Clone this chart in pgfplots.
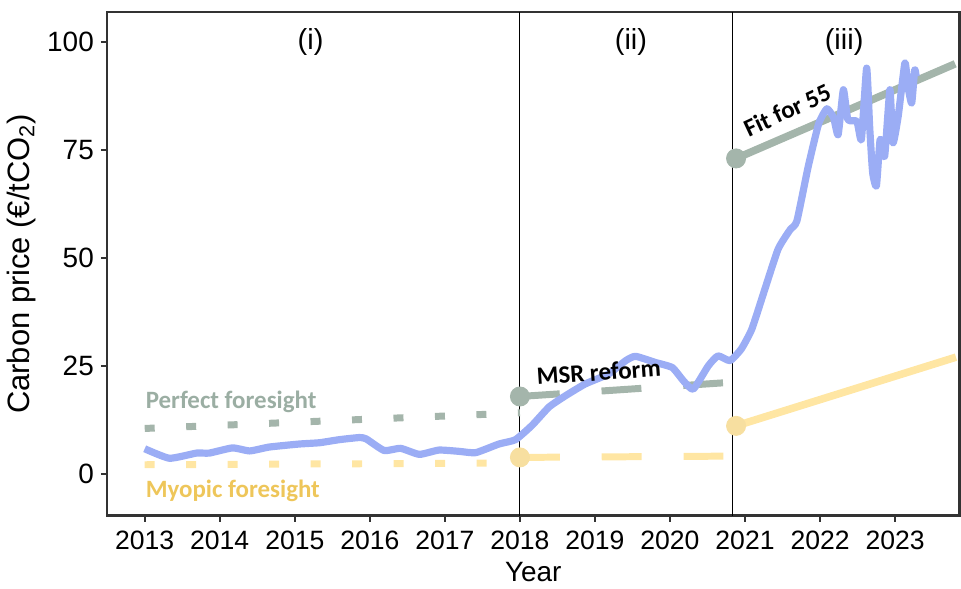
\documentclass[border=0pt]{standalone}
\usepackage{pgfplots}
\pgfplotsset{compat=1.18}
\usepackage{fontspec}
\setmainfont{Liberation Sans}
\newfontfamily\annot{Carlito}
\definecolor{price}{HTML}{9BADF5}
\definecolor{perfect}{HTML}{A4B5AB}
\definecolor{perfecttxt}{HTML}{9BAEA3}
\definecolor{myopic}{HTML}{FFE6A3}
\definecolor{myopicdot}{HTML}{F7DFA0}
\definecolor{myopictxt}{HTML}{EEC65A}

\begin{document}
\begin{tikzpicture}
\begin{axis}[
    name=main,
    scale only axis, width=427.5pt, height=252.5pt,
    xmin=2012.495, xmax=2023.86, ymin=-9.7, ymax=106.9,
    xtick={2013,...,2023}, ytick={0,25,50,75,100},
    /pgf/number format/1000 sep={},
    /pgf/number format/assume math mode=true,
    tick label style={black},
    yticklabel style={font=\fontsize{14}{16}\selectfont},
    xticklabel style={font=\fontsize{13.3}{15}\selectfont, yshift=-1pt},
    tick align=outside, tick pos=left, major tick length=3pt,
    tick style={black!80, line width=0.8pt},
    axis line style={black!80, line width=1.3pt},
    xlabel={Year}, ylabel={Carbon price (€/tCO\textsubscript{2})},
    xlabel style={font=\fontsize{14}{16}\selectfont, yshift=0.5pt},
    ylabel style={font=\fontsize{15.5}{18}\selectfont, yshift=-1pt},
    clip=false,
]
% period dividers
\draw[black, line width=0.5pt] (axis cs:2018,-9.7) -- (axis cs:2018,106.9);
\draw[black, line width=0.5pt] (axis cs:2020.83,-9.7) -- (axis cs:2020.83,106.9);
\node[font=\fontsize{14.5}{16}\selectfont] at (axis cs:2015.21,100) {(i)};
\node[font=\fontsize{14.5}{16}\selectfont] at (axis cs:2019.48,100) {(ii)};
\node[font=\fontsize{14.5}{16}\selectfont] at (axis cs:2022.32,100) {(iii)};

% perfect foresight
\addplot[perfect, line width=3.5pt, dash pattern=on 5pt off 15.8pt]
  coordinates {(2013,10.5)(2018,14.1)};
\addplot[perfect, line width=3.5pt, dash pattern=on 20pt off 21pt]
  coordinates {(2018,17.9)(2020.83,21.2)};
\addplot[perfect, line width=3.8pt]
  coordinates {(2020.88,73.0)(2023.80,94.9)};
\addplot[only marks, mark=*, mark size=4.8pt, perfect, mark options={fill=perfect, draw=perfect}]
  coordinates {(2018,17.9)(2020.88,73.0)};

% myopic foresight
\addplot[myopic, line width=3.5pt, dash pattern=on 5pt off 15.8pt]
  coordinates {(2013,2.1)(2018,2.5)};
\addplot[myopic, line width=3.5pt, dash pattern=on 20pt off 21pt]
  coordinates {(2018,3.8)(2020.83,4.1)};
\addplot[myopic, line width=3.8pt]
  coordinates {(2020.88,11.1)(2023.81,27.0)};
\addplot[only marks, mark=*, mark size=4.8pt, myopicdot, mark options={fill=myopicdot, draw=myopicdot}]
  coordinates {(2018,3.8)(2020.88,11.1)};

% observed price
\addplot[price, line width=3.6pt, smooth, tension=0.3, line join=round]
  coordinates {(2013.00,5.8)(2013.33,3.6)(2013.69,4.8)(2013.86,4.8)(2014.17,6.0)
  (2014.40,5.3)(2014.66,6.2)(2015.06,6.9)(2015.33,7.2)(2015.59,7.9)(2015.86,8.4)
  (2015.95,8.1)(2016.19,5.4)(2016.41,5.9)(2016.66,4.5)(2016.92,5.5)(2017.19,5.2)
  (2017.41,4.9)(2017.72,6.9)(2017.94,7.9)(2018.16,11.2)(2018.39,15.5)(2018.61,18.1)
  (2018.87,20.8)(2019.18,23.1)(2019.41,26.2)(2019.54,27.2)(2019.80,25.8)(2020.03,24.6)
  (2020.18,21.5)(2020.31,19.6)(2020.51,25.0)(2020.64,27.3)(2020.80,26.2)(2020.95,28.9)
  (2021.09,33.5)(2021.25,42)(2021.44,52)(2021.60,56.5)(2021.69,58.5)(2021.84,71)
  (2021.98,81)(2022.09,84.5)(2022.18,82.4)(2022.24,78.5)(2022.31,88.9)(2022.37,82)
  (2022.49,81.6)(2022.55,77.4)(2022.62,93.9)(2022.66,80.4)(2022.70,69.7)(2022.75,66.6)
  (2022.80,77.4)(2022.86,73.5)(2022.93,88.9)(2022.97,76.6)(2023.04,82.7)(2023.13,95.1)
  (2023.17,89.7)(2023.22,85.8)(2023.26,93.5)(2023.28,92)};

% annotations
\node[anchor=west, font=\annot\bfseries\fontsize{12.5}{14}\selectfont, perfecttxt]
  at (axis cs:2012.92,16.6) {Perfect foresight};
\node[anchor=west, font=\annot\bfseries\fontsize{12.5}{14}\selectfont, myopictxt]
  at (axis cs:2012.92,-3.9) {Myopic foresight};
\node[font=\annot\bfseries\fontsize{12.5}{14}\selectfont, rotate=4]
  at (axis cs:2019.05,23.6) {MSR reform};
\node[font=\annot\bfseries\fontsize{12.5}{14}\selectfont, rotate=25, inner sep=1pt]
  at (axis cs:2021.56,84.2) {Fit for 55};
\end{axis}
% room above the frame
\path (main.north) ++(0,6pt);
\end{tikzpicture}
\end{document}
